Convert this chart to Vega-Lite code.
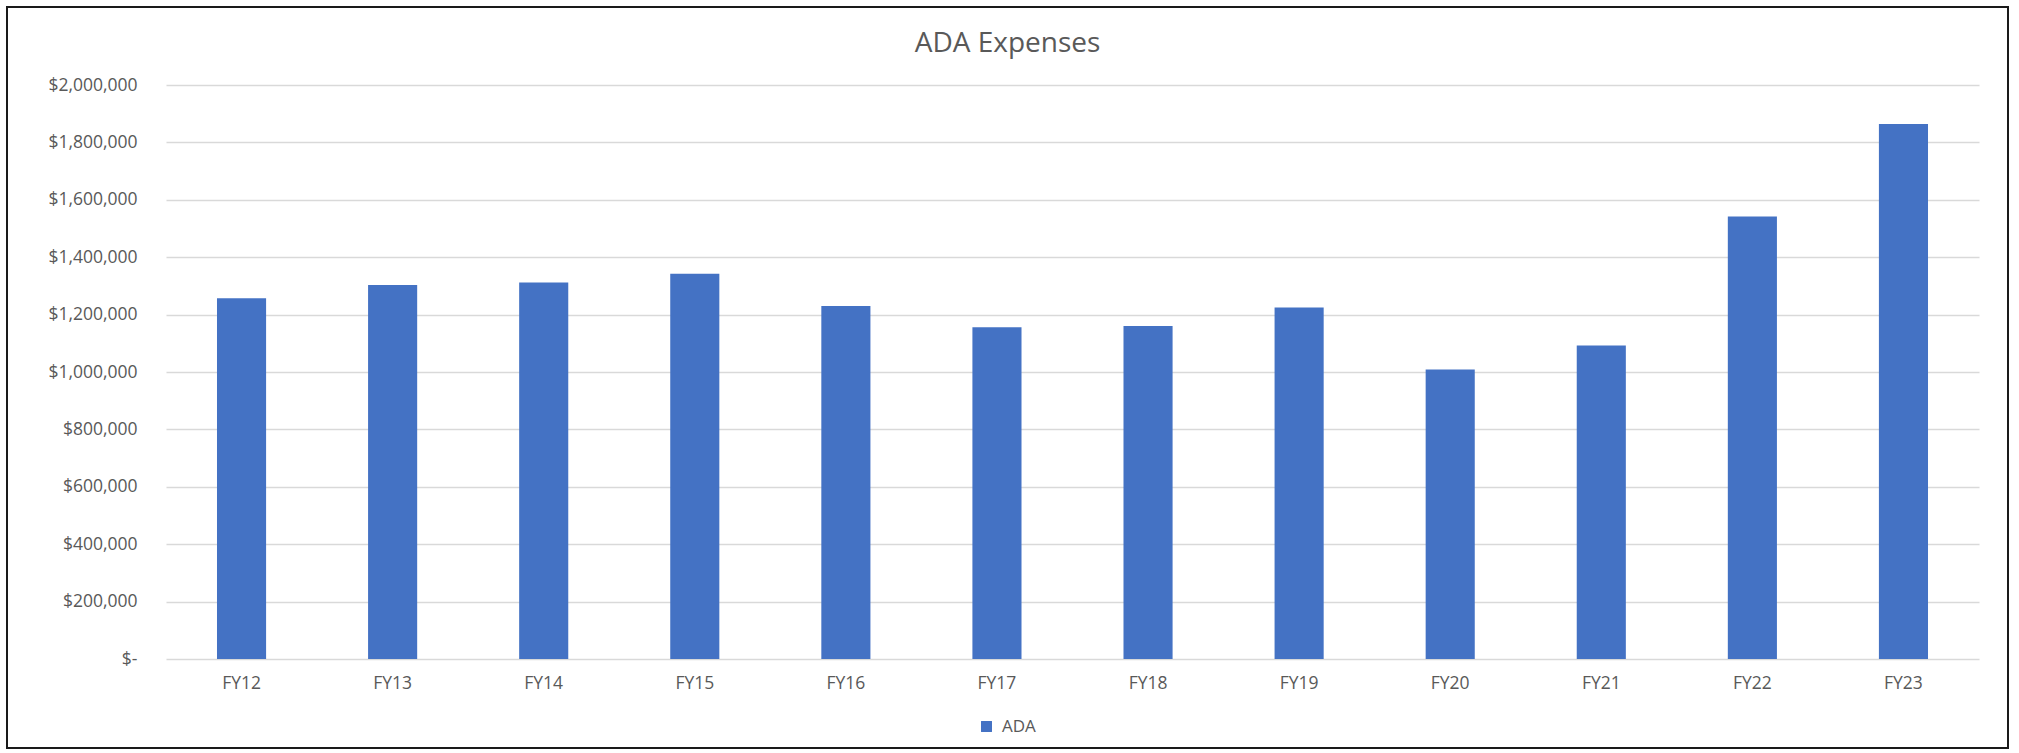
{
  "$schema": "https://vega.github.io/schema/vega-lite/v6.json",
  "width": 2001,
  "height": 741,
  "autosize": {"type": "none"},
  "padding": {"left": 7, "top": 7, "right": 11, "bottom": 5},
  "background": "white",
  "config": {
    "view": {"stroke": "#1a1a1a", "strokeWidth": 2},
    "font": "Open Sans"
  },
  "title": {
    "text": "ADA Expenses",
    "font": "Open Sans",
    "fontSize": 28,
    "fontWeight": "normal",
    "color": "#595959",
    "anchor": "middle",
    "frame": "group",
    "offset": -51
  },
  "data": {
    "values": [
      {"year": "FY12", "series": "ADA", "amount": 1257000},
      {"year": "FY13", "series": "ADA", "amount": 1303000},
      {"year": "FY14", "series": "ADA", "amount": 1312000},
      {"year": "FY15", "series": "ADA", "amount": 1342000},
      {"year": "FY16", "series": "ADA", "amount": 1230000},
      {"year": "FY17", "series": "ADA", "amount": 1156000},
      {"year": "FY18", "series": "ADA", "amount": 1160000},
      {"year": "FY19", "series": "ADA", "amount": 1225000},
      {"year": "FY20", "series": "ADA", "amount": 1009000},
      {"year": "FY21", "series": "ADA", "amount": 1092000},
      {"year": "FY22", "series": "ADA", "amount": 1542000},
      {"year": "FY23", "series": "ADA", "amount": 1864000}
    ]
  },
  "mark": {"type": "bar"},
  "encoding": {
    "x": {
      "field": "year",
      "type": "nominal",
      "sort": null,
      "scale": {"range": [159, 1972], "paddingInner": 0.675, "paddingOuter": 0.3375},
      "axis": {
        "orient": "bottom",
        "offset": -89,
        "title": null,
        "domain": false,
        "ticks": false,
        "tickSize": 0,
        "grid": false,
        "labelAngle": 0,
        "labelBaseline": "middle",
        "labelPadding": 24,
        "labelFont": "Open Sans",
        "labelFontSize": 17.5,
        "labelColor": "#595959"
      }
    },
    "y": {
      "field": "amount",
      "type": "quantitative",
      "scale": {"domain": [0, 2000000], "range": [652, 78], "nice": false},
      "axis": {
        "orient": "left",
        "offset": -159,
        "title": null,
        "domain": false,
        "ticks": false,
        "tickSize": 0,
        "values": [0, 200000, 400000, 600000, 800000, 1000000, 1200000, 1400000, 1600000, 1800000, 2000000],
        "labelExpr": "datum.value === 0 ? '$-\u00a0\u00a0' : format(datum.value, '$,')",
        "labelPadding": 29,
        "labelFont": "Open Sans",
        "labelFontSize": 17.5,
        "labelColor": "#595959",
        "grid": true,
        "gridColor": "#d9d9d9",
        "gridWidth": 1.3
      }
    },
    "color": {
      "field": "series",
      "type": "nominal",
      "scale": {"range": ["#4472C4"]},
      "legend": {
        "orient": "none",
        "legendX": 971,
        "legendY": 711,
        "direction": "horizontal",
        "title": null,
        "symbolType": "square",
        "symbolSize": 120,
        "symbolStrokeWidth": 0,
        "labelOffset": 7,
        "labelFont": "Open Sans",
        "labelFontSize": 17,
        "labelColor": "#595959"
      }
    }
  }
}
